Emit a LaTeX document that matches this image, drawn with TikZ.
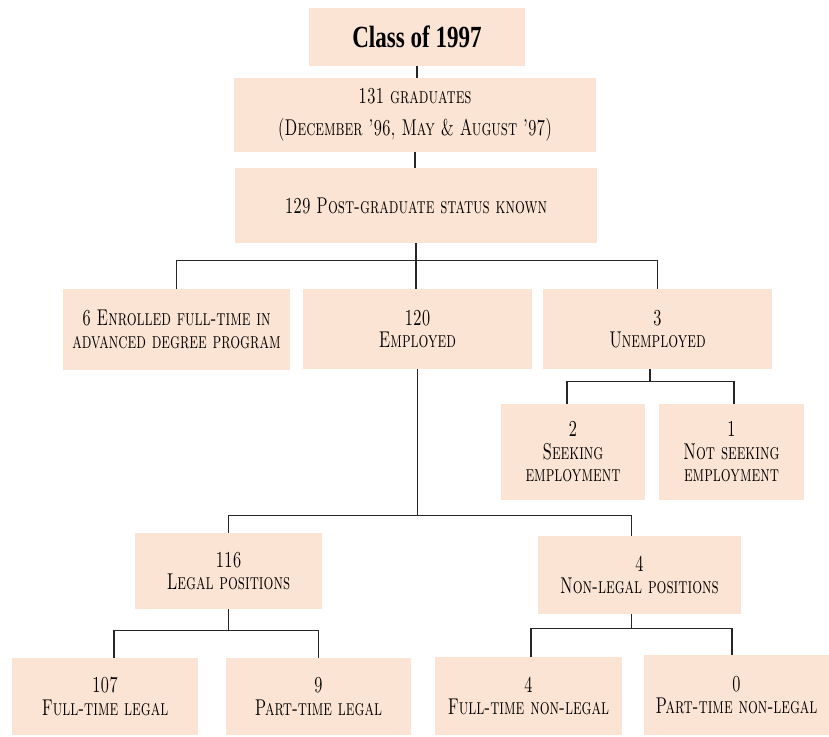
\documentclass[tikz,border=0pt]{standalone}
\usepackage{fontspec}
\setmainfont{lmroman10-regular.otf}[
  FakeStretch=0.68,
  SmallCapsFont=lmromancaps10-regular.otf,
  SmallCapsFeatures={FakeStretch=0.68}]
\newfontfamily\titlefont{Liberation Serif}[FakeStretch=0.75]
\definecolor{peach}{RGB}{252,228,212}

\begin{document}
\begin{tikzpicture}[x=0.02cm,y=-0.02cm,
  box/.style={fill=peach,inner sep=0pt,align=center,font=\fontsize{13}{12.8}\selectfont\scshape},
  link/.style={draw=black!85,line width=0.8pt}]
\useasboundingbox (0,0) rectangle (829,737);
\node[box,minimum width=4.32cm,minimum height=1.16cm,font=\titlefont\bfseries\fontsize{17.5}{20}\selectfont] (title) at (417,37) {Class of 1997};
\node[box,minimum width=7.24cm,minimum height=1.48cm,font=\fontsize{13}{18}\selectfont\scshape] (grads) at (415,115) {131 graduates\\(December '96, May \& August '97)};
\node[box,minimum width=7.26cm,minimum height=1.5cm] (known) at (416,205.5) {129 Post-graduate status known};
\node[box,minimum width=4.54cm,minimum height=1.62cm] (enrolled) at (176.5,329.5) {6 Enrolled full-time in\\advanced degree program};
\node[box,minimum width=4.58cm,minimum height=1.6cm] (employed) at (417.5,329) {120\\Employed};
\node[box,minimum width=4.58cm,minimum height=1.6cm] (unemployed) at (657.5,329) {3\\Unemployed};
\node[box,minimum width=2.88cm,minimum height=1.92cm] (seeking) at (573,452) {2\\Seeking\\employment};
\node[box,minimum width=2.9cm,minimum height=1.92cm] (notseeking) at (731.5,452) {1\\Not seeking\\employment};
\node[box,minimum width=3.74cm,minimum height=1.52cm] (legal) at (228.5,571) {116\\Legal positions};
\node[box,minimum width=4.06cm,minimum height=1.56cm] (nonlegal) at (639.5,575) {4\\Non-legal positions};
\node[box,minimum width=3.72cm,minimum height=1.54cm] (ftlegal) at (105,696.5) {107\\Full-time legal};
\node[box,minimum width=3.7cm,minimum height=1.54cm] (ptlegal) at (318.5,696.5) {9\\Part-time legal};
\node[box,minimum width=3.74cm,minimum height=1.56cm] (ftnon) at (528.5,696) {4\\Full-time non-legal};
\node[box,minimum width=3.7cm,minimum height=1.6cm] (ptnon) at (736.5,695) {0\\Part-time non-legal};

\draw[link] (title.south) -- (title.south |- grads.north);
\draw[link] (grads.south) -- (grads.south |- known.north);
\draw[link] (known.south) -- ++(0,17) coordinate (kbus);
\draw[link] (enrolled.north) |- (kbus) -| (unemployed.north);
\draw[link] (kbus) -- (kbus |- employed.north);
\draw[link] (employed.south) -- ++(0,146) coordinate (ebus);
\draw[link] (legal.north) |- (ebus) -| ([xshift=-0.16cm]nonlegal.north);
\draw[link] ([xshift=-0.15cm]unemployed.south) -- ++(0,12) coordinate (ubus);
\draw[link] ([xshift=-0.12cm]seeking.north) |- (ubus) -| ([xshift=0.05cm]notseeking.north);
\draw[link] (legal.south) -- ++(0,21) coordinate (lbus);
\draw[link] ([xshift=0.18cm]ftlegal.north) |- (lbus) -| (ptlegal.north);
\draw[link] ([xshift=-0.16cm]nonlegal.south) -- ++(0,14) coordinate (nbus);
\draw[link] ([xshift=0.05cm]ftnon.north) |- (nbus) -| ([xshift=-0.09cm]ptnon.north);
\end{tikzpicture}
\end{document}
